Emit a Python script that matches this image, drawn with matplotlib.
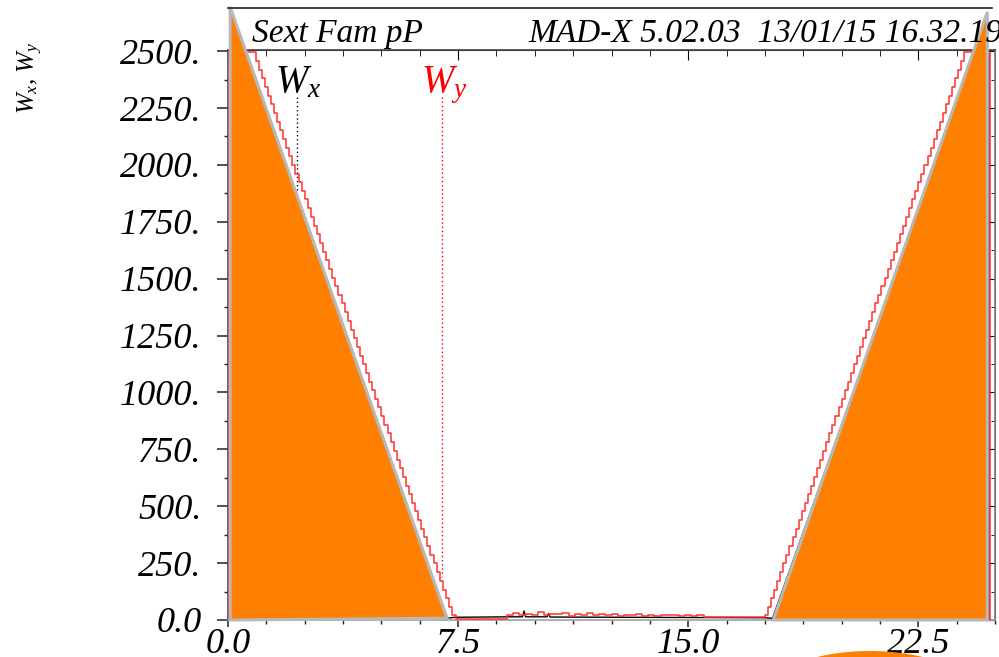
import matplotlib.pyplot as plt
from matplotlib.patches import Polygon, Ellipse
from matplotlib.lines import Line2D
from matplotlib.ticker import MultipleLocator, FuncFormatter

plt.rcParams['font.family'] = 'Liberation Serif'
plt.rcParams['font.style'] = 'italic'
plt.rcParams['mathtext.fontset'] = 'custom'
plt.rcParams['mathtext.it'] = 'Liberation Serif:italic'
plt.rcParams['mathtext.rm'] = 'Liberation Serif:italic'

# Wy (red, stepped) -- left ramp, flat middle, right ramp
wy_s_left = [0.0, 0.0,
             0.8, 0.9, 1.0, 1.1, 1.2, 1.3, 1.4, 1.5, 1.6, 1.7, 1.8, 1.9, 2.0, 2.1,
             2.2, 2.3, 2.4, 2.5, 2.6, 2.7, 2.8, 2.9, 3.0, 3.1, 3.2, 3.3, 3.4, 3.5,
             3.6, 3.7, 3.8, 3.9, 4.0, 4.1, 4.2, 4.3, 4.4, 4.5, 4.6, 4.7, 4.8, 4.9,
             5.0, 5.1, 5.2, 5.3, 5.4, 5.5, 5.6, 5.7, 5.8, 5.9, 6.0, 6.1, 6.2, 6.3,
             6.4, 6.5, 6.6, 6.7, 6.8, 6.9, 7.0, 7.1, 7.2, 7.3]
wy_left = [0, 2495,
           2495, 2457, 2419, 2381, 2343, 2305, 2267, 2229, 2190, 2152, 2114, 2076,
           2038, 2000, 1962, 1924, 1886, 1848, 1810, 1772, 1733, 1695, 1657, 1619,
           1581, 1543, 1505, 1467, 1429, 1391, 1353, 1315, 1276, 1238, 1200, 1162,
           1124, 1086, 1048, 1010, 972, 934, 896, 858, 820, 782, 743, 705,
           667, 629, 591, 553, 515, 477, 439, 401, 363, 325, 287, 249,
           210, 172, 134, 96, 58, 20]
wy_s_mid = [7.43, 9.10, 9.30, 9.50, 9.70, 9.90, 10.10, 10.30, 10.50, 10.70, 10.90,
            11.10, 11.30, 11.50, 11.70, 11.90, 12.10, 12.30, 12.50, 12.70, 12.90,
            13.10, 13.30, 13.50, 13.70, 13.90, 14.10, 14.30, 14.50, 14.70, 14.90,
            15.10, 15.30, 15.50, 15.70]
wy_mid = [3, 24, 30, 20, 28, 22, 33, 21, 27, 25, 31, 19, 26, 23, 29, 20, 27, 22,
          25, 18, 24, 21, 26, 19, 23, 17, 22, 20, 24, 16, 21, 18, 22, 15, 12]
wy_s_right = [17.5, 17.6, 17.7, 17.8, 17.9, 18.0, 18.1, 18.2, 18.3, 18.4, 18.5,
              18.6, 18.7, 18.8, 18.9, 19.0, 19.1, 19.2, 19.3, 19.4, 19.5, 19.6,
              19.7, 19.8, 19.9, 20.0, 20.1, 20.2, 20.3, 20.4, 20.5, 20.6, 20.7,
              20.8, 20.9, 21.0, 21.1, 21.2, 21.3, 21.4, 21.5, 21.6, 21.7, 21.8,
              21.9, 22.0, 22.1, 22.2, 22.3, 22.4, 22.5, 22.6, 22.7, 22.8, 22.9,
              23.0, 23.1, 23.2, 23.3, 23.4, 23.5, 23.6, 23.7, 23.8, 23.9, 24.0,
              24.85, 24.85]
wy_right = [20, 58, 96, 134, 172, 210, 249, 287, 325, 363, 401, 439, 477, 515,
            553, 591, 629, 667, 705, 743, 782, 820, 858, 896, 934, 972, 1010,
            1048, 1086, 1124, 1162, 1200, 1238, 1276, 1315, 1353, 1391, 1429,
            1467, 1505, 1543, 1581, 1619, 1657, 1695, 1733, 1772, 1810, 1848,
            1886, 1924, 1962, 2000, 2038, 2076, 2114, 2152, 2190, 2229, 2267,
            2305, 2343, 2381, 2419, 2457, 2495,
            0, 0]

# Wx (black)
wx_s = [0.00, 7.15, 7.40, 9.20, 9.60, 9.65, 9.70, 10.40, 10.45, 10.50, 17.45, 17.75, 24.80, 24.80]
wx = [2690, 8, 12, 14, 14, 40, 14, 14, 28, 13, 10, 8, 2670, 0]

# highlighted regions (orange)
left_tri_s = [0.07, 0.07, 7.14]
left_tri_w = [2694, 0, 8]
right_tri_s = [17.77, 24.75, 24.75]
right_tri_w = [0, 2672, 0]

x_ticks = [0.0, 7.5, 15.0, 22.5]
y_ticks = [0, 250, 500, 750, 1000, 1250, 1500, 1750, 2000, 2250, 2500]

fig = plt.figure(figsize=(9.99, 6.57), dpi=100)
ax = fig.add_axes([228 / 999, 37 / 657, 767 / 999, 570 / 657])

ax.step(wy_s_left + wy_s_mid + wy_s_right, wy_left + wy_mid + wy_right,
        where='post', color='#ff3030', lw=1.1, zorder=3)
ax.plot(wx_s, wx, color='black', lw=1.0, zorder=2)

# label leaders
ax.plot([2.25, 2.25], [2298, 1880], color='black', ls=(0, (1, 2)), lw=1.0)
ax.plot([6.98, 6.98], [2298, 190], color='red', ls=(0, (1, 2)), lw=1.0)
ax.text(2.3, 2320, r'$W_x$', fontsize=28, color='black', ha='center', va='baseline')
ax.text(7.05, 2320, r'$W_y$', fontsize=28, color='red', ha='center', va='baseline')

for ss, ww in [(left_tri_s, left_tri_w), (right_tri_s, right_tri_w)]:
    poly = Polygon(list(zip(ss, ww)), closed=True, facecolor='#ff8000',
                   edgecolor='#b8b8b8', lw=2.2, zorder=5, clip_on=False)
    ax.add_patch(poly)

ax.set_xlim(0, 25)
ax.set_ylim(0, 2505)
ax.set_xticks(x_ticks)
ax.set_yticks(y_ticks)
ax.xaxis.set_minor_locator(MultipleLocator(1.25))
ax.yaxis.set_minor_locator(MultipleLocator(125))
ax.xaxis.set_major_formatter(FuncFormatter(lambda v, p: '%.1f' % v))
ax.yaxis.set_major_formatter(FuncFormatter(lambda v, p: '0.0' if v == 0 else '%d.' % v))
ax.tick_params(axis='both', which='major', direction='out', labelsize=26, width=1.1, color='#222222')
ax.tick_params(axis='y', which='major', length=8, pad=11)
ax.tick_params(axis='x', which='major', length=5, pad=1)
ax.tick_params(axis='both', which='minor', direction='out', length=3, width=1.0, color='#222222')

top = ax.secondary_xaxis('top')
top.set_xticks(x_ticks)
top.xaxis.set_minor_locator(MultipleLocator(1.25))
top.tick_params(which='major', direction='in', length=7, labeltop=False)
top.tick_params(which='minor', direction='in', length=4)
right = ax.secondary_yaxis('right')
right.set_yticks(y_ticks)
right.yaxis.set_minor_locator(MultipleLocator(125))
right.tick_params(which='major', direction='in', length=6, labelright=False)
right.tick_params(which='minor', direction='in', length=3)

for name, sp in ax.spines.items():
    sp.set_color('#444444')
    sp.set_linewidth(1.2)
ax.spines['bottom'].set_color('#a0a0a0')
ax.spines['right'].set_color('#777777')
top.spines['top'].set_color('#222222')
right.spines['right'].set_color('#777777')

# header
fig.add_artist(Line2D([228 / 999, 992 / 999], [1 - 8 / 657, 1 - 8 / 657],
                      color='#222222', lw=1.2))
fig.text(252 / 999, 1 - 42 / 657, 'Sext Fam pP', fontsize=24, ha='left', va='baseline')
fig.text(528 / 999, 1 - 42 / 657, 'MAD-X 5.02.03  13/01/15 16.32.19',
         fontsize=24, ha='left', va='baseline', zorder=1)

fig.text(30 / 999, 1 - 78 / 657, r'$W_x$, $W_y$', fontsize=18, rotation=90,
         ha='center', va='center')

fig.add_artist(Ellipse((870 / 999, 1 - 691 / 657), 200 / 999, 80 / 657,
                       transform=fig.transFigure, facecolor='#ff8000',
                       edgecolor='none'))

fig.savefig('out.png', dpi=100)
